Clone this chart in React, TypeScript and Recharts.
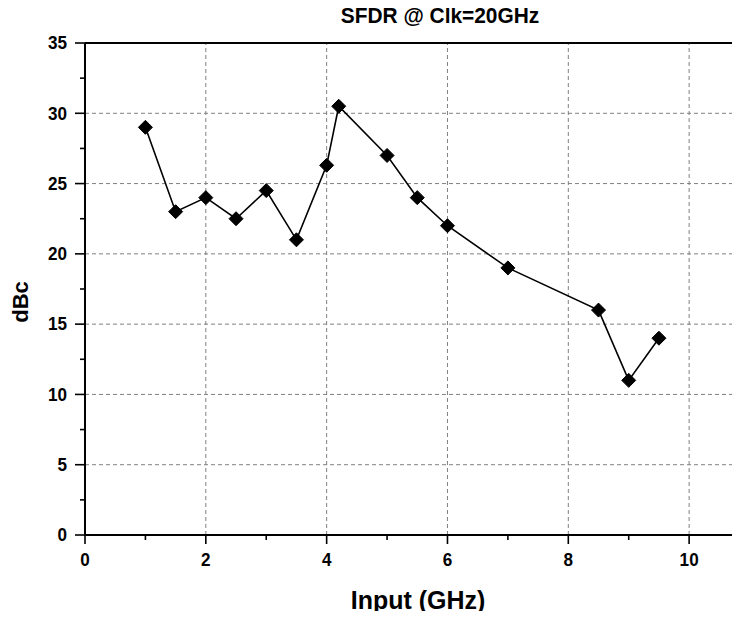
import React from 'react';
import { LineChart, Line, XAxis, YAxis, ReferenceLine } from 'recharts';

const inputGHz = [1, 1.5, 2, 2.5, 3, 3.5, 4, 4.2, 5, 5.5, 6, 7, 8.5, 9, 9.5];
const sfdrDbc = [29, 23, 24, 22.5, 24.5, 21, 26.3, 30.5, 27, 24, 22, 19, 16, 11, 14];
const xTicks = [0, 1, 2, 3, 4, 5, 6, 7, 8, 9, 10];
const xMajor = [0, 2, 4, 6, 8, 10];
const xGrid = [2, 4, 6, 8, 10];
const yTicks = [0, 2.5, 5, 7.5, 10, 12.5, 15, 17.5, 20, 22.5, 25, 27.5, 30, 32.5, 35];
const yMajor = [0, 5, 10, 15, 20, 25, 30, 35];
const yGrid = [5, 10, 15, 20, 25, 30];

const chartTitle = 'SFDR @ Clk=20GHz';
const xTitle = 'Input (GHz)';
const yTitle = 'dBc';

const data = inputGHz.map((x, i) => ({ x, y: sfdrDbc[i] }));

const FONT = '"Liberation Sans", Arial, sans-serif';

const XTick = (props: any) => {
  const { x, y, payload } = props;
  const major = xMajor.includes(payload.value);
  return (
    <g>
      <line x1={x} y1={y} x2={x} y2={y + (major ? 9 : 5)} stroke="#000" strokeWidth={1.6} />
      {major && (
        <text
          transform={`translate(${x},${y + 25}) scale(0.9,1)`}
          x={0}
          y={0}
          textAnchor="middle"
          dominantBaseline="central"
          fontFamily={FONT}
          fontWeight="bold"
          fontSize={19}
          fill="#000"
        >
          {payload.value}
        </text>
      )}
    </g>
  );
};

const YTick = (props: any) => {
  const { x, y, payload } = props;
  const major = yMajor.includes(payload.value);
  return (
    <g>
      <line x1={x} y1={y} x2={x - (major ? 10 : 5)} y2={y} stroke="#000" strokeWidth={1.6} />
      {major && (
        <text
          transform={`translate(${x - 18},${y}) scale(0.9,1)`}
          x={0}
          y={0}
          textAnchor="end"
          dominantBaseline="central"
          fontFamily={FONT}
          fontWeight="bold"
          fontSize={19}
          fill="#000"
        >
          {payload.value}
        </text>
      )}
    </g>
  );
};

const Diamond = (props: any) => {
  const { cx, cy } = props;
  if (cx == null || cy == null) return null;
  const r = 7;
  return <polygon points={`${cx},${cy - r} ${cx + r},${cy} ${cx},${cy + r} ${cx - r},${cy}`} fill="#000" stroke="#000" />;
};

export default function App() {
  return (
    <div style={{ position: 'relative', width: 732, height: 603, fontFamily: FONT, background: '#fff' }}>
      <div style={{ width: 732, height: 603, overflow: 'hidden' }}>
        <LineChart width={750} height={603} data={data} margin={{ top: 35, right: 0, left: 0, bottom: 0 }}>
          {yGrid.map((v) => (
            <ReferenceLine key={'h' + v} y={v} stroke="#808080" strokeDasharray="4 3" strokeWidth={1} />
          ))}
          {xGrid.map((v) => (
            <ReferenceLine key={'v' + v} x={v} stroke="#808080" strokeDasharray="4 3" strokeWidth={1} />
          ))}
          <ReferenceLine y={35} stroke="#000" strokeWidth={2} />
          <XAxis
            dataKey="x"
            type="number"
            domain={[0, 11.14]}
            allowDataOverflow
            ticks={xTicks}
            interval={0}
            height={76}
            tickSize={0}
            tickMargin={0}
            tickLine={false}
            axisLine={{ stroke: '#000', strokeWidth: 2 }}
            tick={<XTick />}
          />
          <YAxis
            type="number"
            domain={[0, 35]}
            ticks={yTicks}
            interval={0}
            width={77}
            tickSize={0}
            tickMargin={0}
            tickLine={false}
            axisLine={{ stroke: '#000', strokeWidth: 2 }}
            tick={<YTick />}
          />
          <Line
            type="linear"
            dataKey="y"
            stroke="#000"
            strokeWidth={1.6}
            dot={<Diamond />}
            activeDot={false}
            isAnimationActive={false}
          />
        </LineChart>
      </div>
      <svg
        width={740}
        height={619}
        style={{ position: 'absolute', left: -8, top: -8, pointerEvents: 'none', overflow: 'visible' }}
      >
        <text transform="translate(440,22.5) scale(0.95,1)" textAnchor="middle" fontFamily={FONT} fontWeight="bold" fontSize={22} fill="#000">
          {chartTitle}
        </text>
        <text transform="translate(418,609) scale(0.96,1)" textAnchor="middle" fontFamily={FONT} fontWeight="bold" fontSize={26} fill="#000">
          {xTitle}
        </text>
        <text transform="translate(28,302) rotate(-90)" textAnchor="middle" fontFamily={FONT} fontWeight="bold" fontSize={22} fill="#000">
          {yTitle}
        </text>
      </svg>
    </div>
  );
}
